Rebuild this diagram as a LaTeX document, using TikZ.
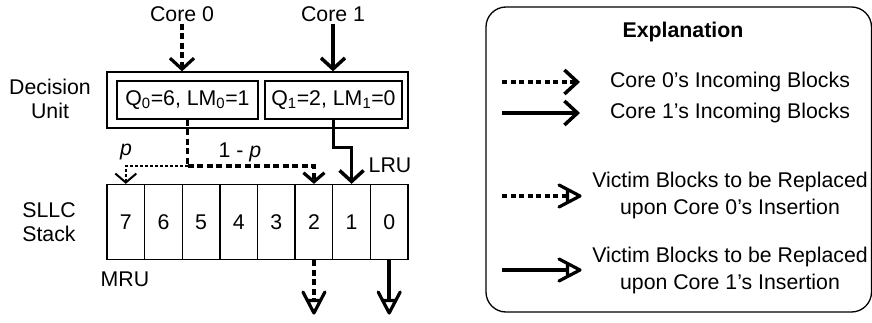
\documentclass[tikz,border=0pt]{standalone}
\usepackage{fontspec}
\setmainfont{Liberation Sans}
\usetikzlibrary{arrows.meta}
\tikzset{
  vdown/.pic={\draw[line width=3.2pt, line join=round, line cap=round] (-11,-21) -- (0,0) -- (11,-21) (-6.6,-12.6) -- (6.6,-12.6);},
  vright/.pic={\draw[line width=3.2pt, line join=round, line cap=round] (-21,-11) -- (0,0) -- (-21,11) (-12.6,-6.6) -- (-12.6,6.6);},
}
\begin{document}
\begin{tikzpicture}[x=1pt,y=-1pt,
  every node/.style={font=\fontsize{21.3}{24}\selectfont, inner sep=0pt},
  box/.style={draw, line width=1.3pt},
  cell/.style={box, minimum width=37.625pt, minimum height=75pt},
  heavy/.style={line width=3.5pt},
  dsh/.style={line width=3.2pt, dash pattern=on 6pt off 3.5pt},
  ldsh/.style={heavy, dash pattern=on 5pt off 3.5pt},
  dotl/.style={line width=2pt, dash pattern=on 3pt off 2pt},
  barb/.style={-{Straight Barb[length=11pt,width=24pt]}},
  lbarb/.style={-{Straight Barb[length=13pt,width=24pt]}},
  smallbarb/.style={-{Straight Barb[length=9pt,width=21pt]}},
  lbl/.style={align=center},
  two/.style={align=center, font=\fontsize{21.3}{27}\selectfont},
]
\useasboundingbox (0,0) rectangle (872,323);

% left labels
\node[lbl] (dulbl) at (50,99) {Decision\\Unit};
\node[lbl] (stlbl) at (49,222) {SLLC\\Stack};

% cores
\node (core0) at (182,14) {Core 0};
\node (core1) at (333,14) {Core 1};

% decision unit
\node[box, minimum width=301pt, minimum height=56pt] (du) at (257.5,100) {};
\node[box, minimum width=141pt, minimum height=38pt] (q0) at (187.5,100) {Q\textsubscript{0}=6, LM\textsubscript{0}=1};
\node[box, minimum width=137pt, minimum height=38pt] (q1) at (333.5,100) {Q\textsubscript{1}=2, LM\textsubscript{1}=0};

% stack
\foreach \k/\n in {0/7,1/6,2/5,3/4,4/3,5/2,6/1,7/0}{
  \node[cell] (c\n) at ({107+37.625*(\k+0.5)},222) {\n};
}

\node (lru) at (390,165) {LRU};
\node (mru) at (125,279) {MRU};
\node (p) at (126,152) {\textit{p}};
\node (onep) at (240,152) {1 - \textit{p}};

% core arrows
\draw[dsh, barb] ([yshift=-2pt]core0.south) -- (core0.south |- du.north);
\draw[heavy, barb] ([yshift=-2pt]core1.south) -- (core1.south |- du.north);

% decision outputs
\coordinate (jn) at (187.5,166);
\draw[dsh] (q0.south) -- (jn);
\draw[dsh, smallbarb] (jn) -| (c2.north);
\draw[dotl, smallbarb] (jn) -| (c7.north);
\draw[heavy, barb] (q1.south) -- ++(0,28) -| (c1.north);

% victims
\coordinate (v2) at (c2.south |- 0,300.4);
\coordinate (v0) at (c0.south |- 0,300.4);
\draw[dsh] (c2.south) -- (v2);
\draw[heavy] (c0.south) -- (v0);
\pic at (c2.south |- 0,313) {vdown};
\pic at (c0.south |- 0,313) {vdown};

% legend
\draw[line width=1.3pt, rounded corners=20pt] (486,7) rectangle (871.5,312);
\node (expl) at (683,32) {\textbf{Explanation}};
\coordinate (l1a) at (502,82);  \coordinate (l1b) at (580,82);
\coordinate (l2a) at (502,113); \coordinate (l2b) at (580,113);
\coordinate (l3a) at (502,196); \coordinate (l3b) at (567.4,196);
\coordinate (l4a) at (502,270); \coordinate (l4b) at (567.4,270);
\draw[ldsh, lbarb] (l1a) -- (l1b);
\draw[heavy, lbarb] (l2a) -- (l2b);
\draw[ldsh] (l3a) -- (l3b);
\draw[heavy] (l4a) -- (l4b);
\pic at (580,196) {vright};
\pic at (580,270) {vright};
\node (t1) at (730,82) {Core 0's Incoming Blocks};
\node (t2) at (730,113) {Core 1's Incoming Blocks};
\node[two] (t3) at (730,195) {Victim Blocks to be Replaced\\upon Core 0's Insertion};
\node[two] (t4) at (730,270) {Victim Blocks to be Replaced\\upon Core 1's Insertion};
\end{tikzpicture}
\end{document}
